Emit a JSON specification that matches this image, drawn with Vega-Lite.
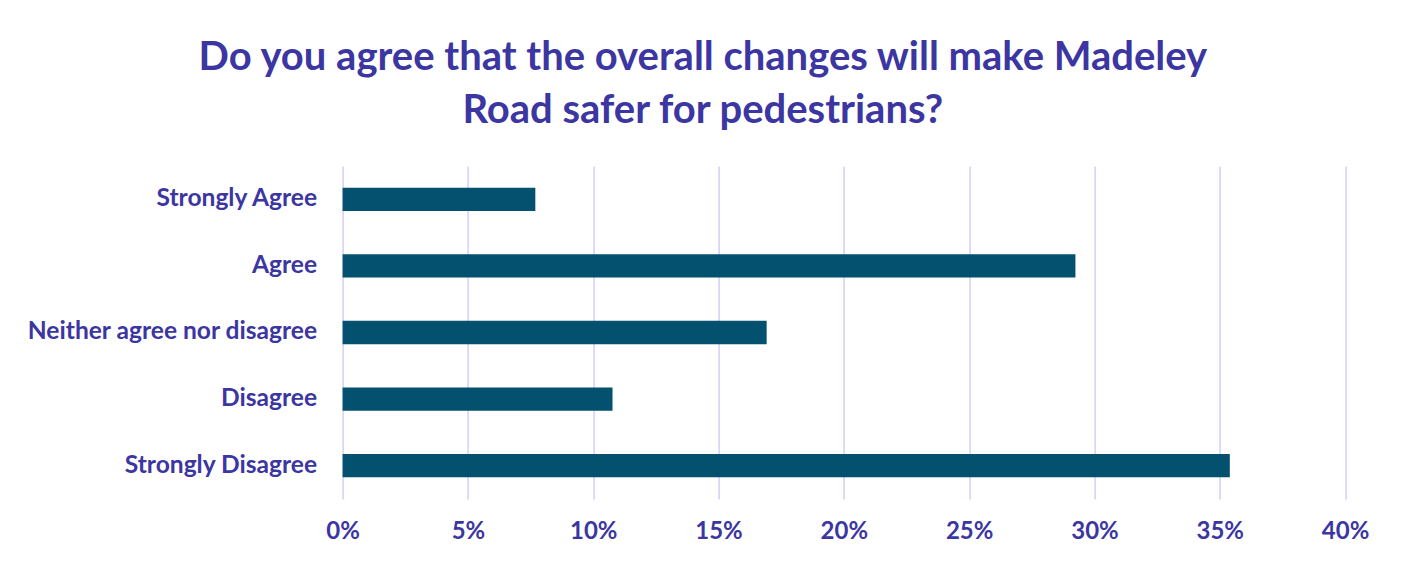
{
  "$schema": "https://vega.github.io/schema/vega-lite/v6.json",
  "autosize": {"type": "none"},
  "width": 1002.5,
  "height": 333,
  "padding": {"left": 342.6, "top": 166, "right": 56, "bottom": 65},
  "background": "white",
  "title": {
    "text": ["Do you agree that the overall changes will make Madeley", "Road safer for pedestrians?"],
    "anchor": "middle",
    "frame": "group",
    "dx": -141,
    "font": "Lato",
    "fontSize": 40,
    "fontWeight": "bold",
    "color": "#3b36a1",
    "lineHeight": 53,
    "offset": 35
  },
  "data": {
    "values": [
      {"response": "Strongly Agree", "pct": 7.69},
      {"response": "Agree", "pct": 29.24},
      {"response": "Neither agree nor disagree", "pct": 16.92},
      {"response": "Disagree", "pct": 10.77},
      {"response": "Strongly Disagree", "pct": 35.4}
    ]
  },
  "mark": {"type": "bar", "color": "#03506f"},
  "encoding": {
    "y": {
      "field": "response",
      "type": "nominal",
      "sort": null,
      "scale": {"paddingInner": 0.65, "paddingOuter": 0.325},
      "axis": {
        "title": null,
        "domain": false,
        "ticks": false,
        "grid": false,
        "labelFont": "Lato",
        "labelFontSize": 24.6,
        "labelFontWeight": "bold",
        "labelColor": "#3b36a1",
        "labelPadding": 26,
        "labelLimit": 0
      }
    },
    "x": {
      "field": "pct",
      "type": "quantitative",
      "scale": {"domain": [0, 40], "nice": false},
      "axis": {
        "title": null,
        "values": [0, 5, 10, 15, 20, 25, 30, 35, 40],
        "labelExpr": "datum.value + '%'",
        "domain": false,
        "ticks": false,
        "grid": true,
        "gridColor": "#d4cff4",
        "gridWidth": 1.5,
        "labelFont": "Lato",
        "labelFontSize": 24,
        "labelFontWeight": "bold",
        "labelColor": "#3b36a1",
        "labelPadding": 21,
        "labelFlush": false
      }
    }
  },
  "config": {"view": {"stroke": null}}
}
